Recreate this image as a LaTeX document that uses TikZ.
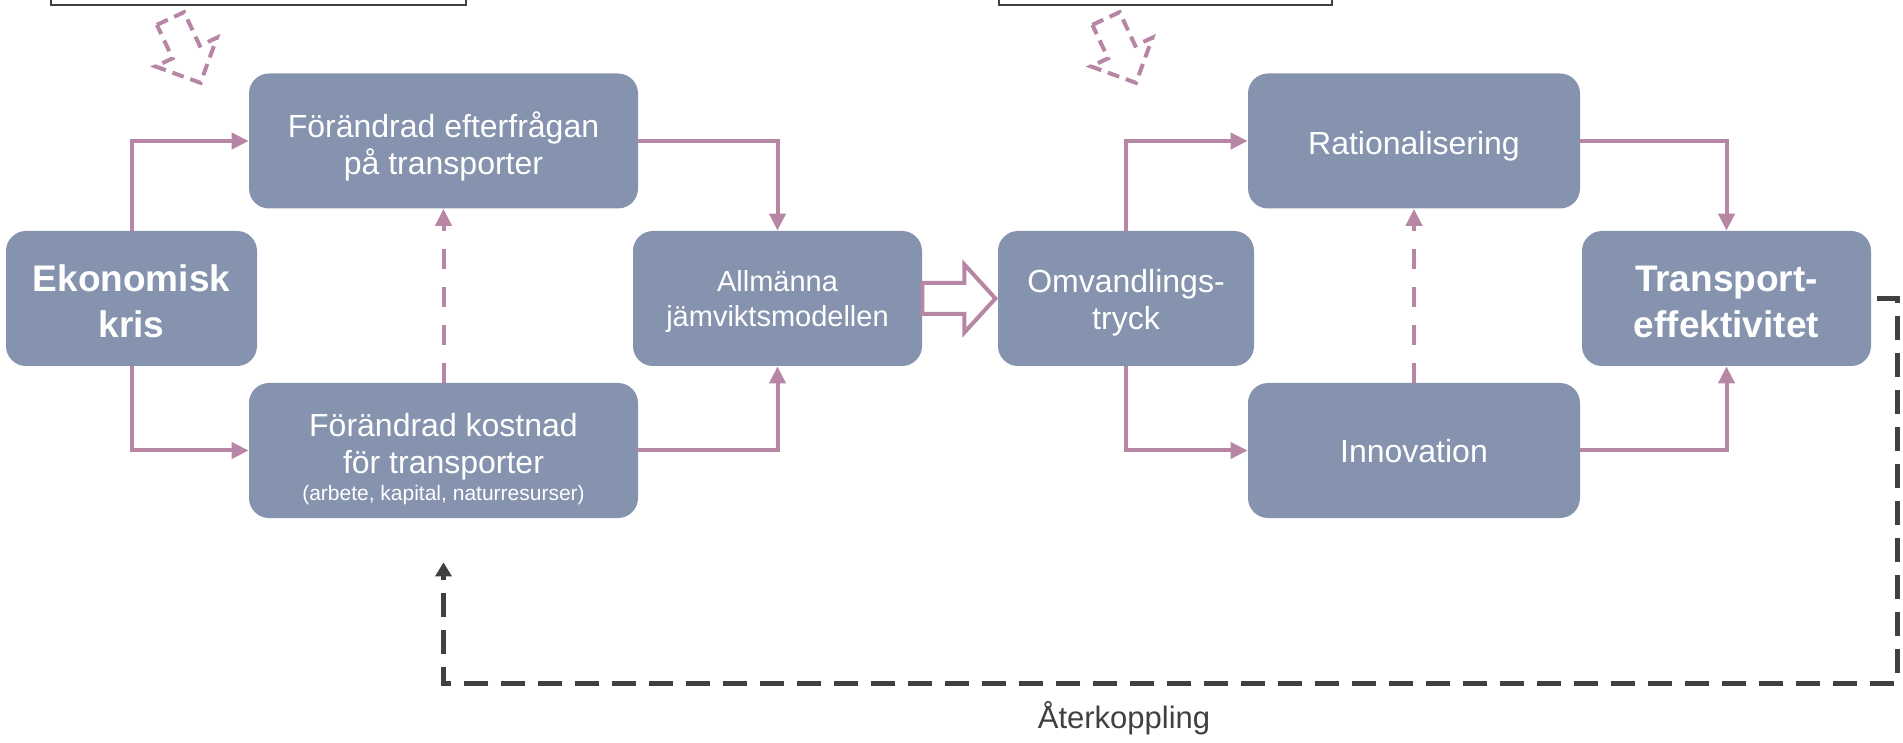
\documentclass[tikz,border=0pt]{standalone}
\usepackage{fontspec}
\setmainfont{Liberation Sans}
\usetikzlibrary{arrows.meta,calc}
\definecolor{boxcol}{HTML}{8593AE}
\definecolor{pinkcol}{HTML}{B686A4}
\definecolor{darkcol}{HTML}{404040}
\begin{document}
\begin{tikzpicture}[x=0.5pt,y=-0.5pt,
  box/.style={rectangle, rounded corners=10pt, fill=boxcol, inner sep=0pt, minimum height=67.5pt},
  txt/.style={text=white, align=center, inner sep=0pt, font=\fontsize{16}{18.5}\selectfont},
  btxt/.style={txt, font=\fontsize{18.5}{23}\selectfont\bfseries},
  conn/.style={draw=pinkcol, line width=2pt, -{Triangle[length=8.5pt,width=8pt]}},
  dconn/.style={conn, dash pattern=on 10pt off 9pt},
  hollow/.style={draw=pinkcol, fill=white, line width=2pt, line join=miter},
  dblock/.style={draw=pinkcol, line width=2pt, dash pattern=on 6pt off 3.5pt, line join=miter},
  topbox/.style={rectangle, draw=darkcol, line width=1pt, inner sep=0pt, minimum height=30pt},
  fb/.style={draw=darkcol, line width=2.5pt, dash pattern=on 12pt off 6.5pt, line join=miter,
    -{Triangle[length=7pt,width=8pt]}},
]
\useasboundingbox (0,0) rectangle (1903,743);
\clip (0,0) rectangle (1903,743);

% top boxes (cut off)
\node[topbox, minimum width=207.5pt] (t1) at (258.5,-25) {};
\node[topbox, minimum width=166.5pt] (t2) at (1165.5,-25) {};

% dashed block arrows
\begin{scope}[shift={(170.5,18.5)}, rotate=25]
  \draw[dblock] (-15,0) -- (15,0) -- (15,37) -- (34,37) -- (0,71) -- (-34,37) -- (-15,37) -- cycle;
\end{scope}
\begin{scope}[shift={(1106,18.5)}, rotate=25]
  \draw[dblock] (-15,0) -- (15,0) -- (15,37) -- (34,37) -- (0,71) -- (-34,37) -- (-15,37) -- cycle;
\end{scope}

% boxes
\node[box, minimum width=125.5pt] (a) at (131.5,298.5) {};
\node[box, minimum width=194.5pt] (b) at (443.5,141) {};
\node[box, minimum width=194.5pt] (c) at (443.5,450.5) {};
\node[box, minimum width=144.5pt] (d) at (777.5,298.5) {};
\node[box, minimum width=128pt] (e) at (1126,298.5) {};
\node[box, minimum width=166pt] (f) at (1414,141) {};
\node[box, minimum width=166pt] (g) at (1414,450.5) {};
\node[box, minimum width=144.5pt] (h) at (1726.5,298.5) {};

% texts
\node[btxt] (at) at ($(a)+(0,3)$) {Ekonomisk\\kris};
\node[txt] (bt) at ($(b)+(0,5)$) {Förändrad efterfrågan\\på transporter};
\node[txt] (ct) at ($(c)+(0,8.5)$) {Förändrad kostnad\\för transporter\\[-5pt]{\fontsize{10.5}{12}\selectfont (arbete, kapital, naturresurser)}};
\node[txt, font=\fontsize{14.5}{17.5}\selectfont] (dt) at ($(d)+(0,3)$) {Allmänna\\jämviktsmodellen};
\node[txt] (et) at ($(e)+(0,4)$) {Omvandlings-\\tryck};
\node[txt] (ft) at ($(f)+(0,5)$) {Rationalisering};
\node[txt] (gt) at ($(g)+(0,1)$) {Innovation};
\node[btxt] (ht) at ($(h)+(0,3)$) {Transport-\\effektivitet};

% connectors
\draw[conn] (a.north) |- (b.west);
\draw[conn] (a.south) |- (c.west);
\draw[conn] (b.east) -| (d.north);
\draw[conn] (c.east) -| (d.south);
\draw[dconn] (c.north) -- (b.south);
\draw[conn] (e.north) |- (f.west);
\draw[conn] (e.south) |- (g.west);
\draw[conn] (f.east) -| (h.north);
\draw[conn] (g.east) -| (h.south);
\draw[dconn] (g.north) -- (f.south);

% big hollow arrow
\draw[hollow] ($(d.east)+(0,-15.5)$) -- ++(42,0) -- ++(0,-18.5) -- ($(d.east)+(73,0)$)
  -- ($(d.east)+(42,34)$) -- ++(0,-18.5) -- ($(d.east)+(0,15.5)$) -- cycle;

% feedback
\coordinate (fbs) at ($(h.east)+(6,0)$);
\coordinate (fbr) at (1897,683);
\coordinate (fbe) at ($(c.south)+(0,44)$);
\draw[fb] (fbs) -| (fbr) -| (fbe);
\node[font=\fontsize{15.5}{18}\selectfont, text=darkcol, anchor=base] (fbl) at (1124,728) {Återkoppling};
\end{tikzpicture}
\end{document}
